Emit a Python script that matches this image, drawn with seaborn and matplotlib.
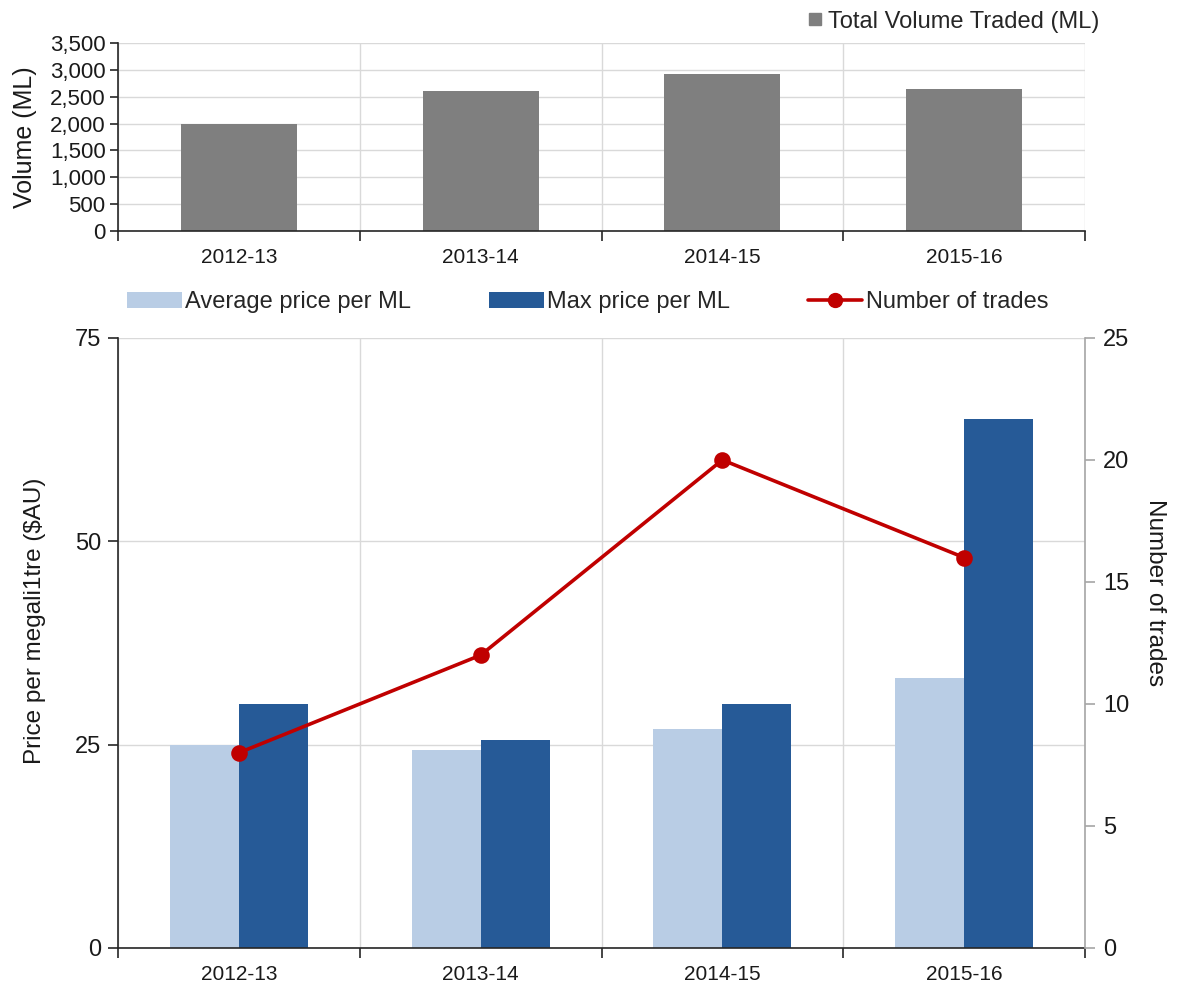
import numpy as np
import pandas as pd
import matplotlib
matplotlib.use("Agg")
import matplotlib.pyplot as plt
import seaborn as sns
from matplotlib.patches import Patch
from matplotlib.lines import Line2D
from matplotlib.ticker import FuncFormatter, FixedLocator

# Water trading summary by financial year
years = ["2012-13", "2013-14", "2014-15", "2015-16"]
volume_ml = [2000, 2600, 2920, 2650]
avg_price = [25.0, 24.3, 26.9, 33.2]
max_price = [30.0, 25.6, 30.0, 65.0]
num_trades = [8, 12, 20, 16]

series_names = ["Average price per ML", "Max price per ML"]
volume_label = "Total Volume Traded (ML)"
trades_label = "Number of trades"

GRAY_BAR = "#7F7F7F"
LIGHT_BLUE = "#B9CDE5"
DARK_BLUE = "#265A97"
RED = "#C00000"
GRID = "#D9D9D9"
AXIS = "#262626"
TEXT = "#1A1A1A"

sns.set_theme(style="white")
plt.rcParams["font.family"] = ["Liberation Sans", "DejaVu Sans"]

fig = plt.figure(figsize=(11.77, 9.85), dpi=100)
ax_top = fig.add_axes([0.1003, 0.7655, 0.8215, 0.1908])
ax_bot = fig.add_axes([0.1003, 0.0376, 0.8215, 0.6193])


def category_frame(ax, n):
    """Ticks at category centres (unmarked) and boundary ticks/grid lines."""
    ax.set_xlim(-0.5, n - 0.5)
    ax.xaxis.set_minor_locator(FixedLocator(np.arange(n + 1) - 0.5))
    ax.tick_params(axis="x", which="major", length=0, pad=12, labelsize=15,
                   colors=TEXT)
    ax.tick_params(axis="x", which="minor", length=7, width=1.2,
                   direction="out", color=AXIS, bottom=True)
    ax.grid(axis="x", which="minor", color=GRID, linewidth=1)
    ax.grid(axis="x", which="major", visible=False)
    ax.grid(axis="y", which="major", color=GRID, linewidth=1)
    ax.set_axisbelow(True)
    for side in ("top", "right"):
        ax.spines[side].set_visible(False)
    for side in ("left", "bottom"):
        ax.spines[side].set_color(AXIS)
        ax.spines[side].set_linewidth(1.2)


# ---- Top panel: total volume traded ----
sns.barplot(x=years, y=volume_ml, ax=ax_top, color=GRAY_BAR, width=0.48,
            saturation=1, edgecolor="none")
category_frame(ax_top, len(years))
ax_top.set_ylim(0, 3500)
ax_top.set_yticks(np.arange(0, 3501, 500))
ax_top.yaxis.set_major_formatter(FuncFormatter(lambda v, p: f"{int(v):,}"))
ax_top.tick_params(axis="y", length=6, width=1.2, direction="out", color=AXIS,
                   left=True, pad=3, labelsize=16, colors=TEXT)
ax_top.set_xlabel("")
ax_top.set_ylabel("Volume (ML)", fontsize=18, labelpad=9, color=TEXT)

ax_top.legend(handles=[Line2D([], [], marker="s", linestyle="none",
                              color=GRAY_BAR, markersize=9)],
              labels=[volume_label], loc="center right", frameon=False,
              bbox_to_anchor=(0.934, 0.978), bbox_transform=fig.transFigure,
              fontsize=17, handlelength=0.6, handletextpad=0.25,
              borderaxespad=0, borderpad=0)

# ---- Bottom panel: prices (bars) and number of trades (line) ----
price_df = pd.DataFrame({
    "year": years * 2,
    "price": avg_price + max_price,
    "series": [series_names[0]] * len(years) + [series_names[1]] * len(years),
})
sns.barplot(data=price_df, x="year", y="price", hue="series",
            palette=[LIGHT_BLUE, DARK_BLUE], width=0.57, gap=0,
            saturation=1, edgecolor="none", ax=ax_bot, legend=False)
category_frame(ax_bot, len(years))
ax_bot.set_ylim(0, 75)
ax_bot.set_yticks([0, 25, 50, 75])
ax_bot.tick_params(axis="y", length=7, width=1.2, direction="out", color=AXIS,
                   left=True, pad=5, labelsize=17, colors=TEXT)
ax_bot.set_xlabel("")
ax_bot.set_ylabel("Price per megali1tre ($AU)", fontsize=17.5, color=TEXT)
ax_bot.yaxis.set_label_coords(-0.075, 0.536)

ax_r = ax_bot.twinx()
sns.pointplot(x=years, y=num_trades, ax=ax_r, color=RED, markers="o",
              linestyles="-", markersize=10, linewidth=2.6)
ax_r.set_xlim(-0.5, len(years) - 0.5)
ax_r.set_ylim(0, 25)
ax_r.set_yticks(np.arange(0, 26, 5))
ax_r.grid(False)
for side in ("top", "left", "bottom"):
    ax_r.spines[side].set_visible(False)
ax_r.spines["right"].set_color("#A6A6A6")
ax_r.spines["right"].set_linewidth(1.2)
ax_r.tick_params(axis="y", length=7, width=1.2, direction="out",
                 right=True, pad=6, labelsize=17)
ax_r.tick_params(axis="y", labelcolor=TEXT, color="#A6A6A6")
ax_r.set_ylabel(trades_label, fontsize=17.5, rotation=270, color=TEXT)
ax_r.yaxis.set_label_coords(1.084, 0.582)
ax_r.set_xlabel("")

legend_handles = [
    Patch(facecolor=LIGHT_BLUE, edgecolor="none"),
    Patch(facecolor=DARK_BLUE, edgecolor="none"),
    Line2D([], [], color=RED, linewidth=2.6, marker="o", markersize=10),
]
fig.legend(handles=legend_handles,
           labels=series_names + [trades_label],
           loc="center", bbox_to_anchor=(0.4995, 0.693), ncol=3, frameon=False,
           fontsize=17, handlelength=2.3, handleheight=0.7,
           handletextpad=0.15, columnspacing=3.3, borderpad=0)

fig.savefig("out.png", dpi=100)
